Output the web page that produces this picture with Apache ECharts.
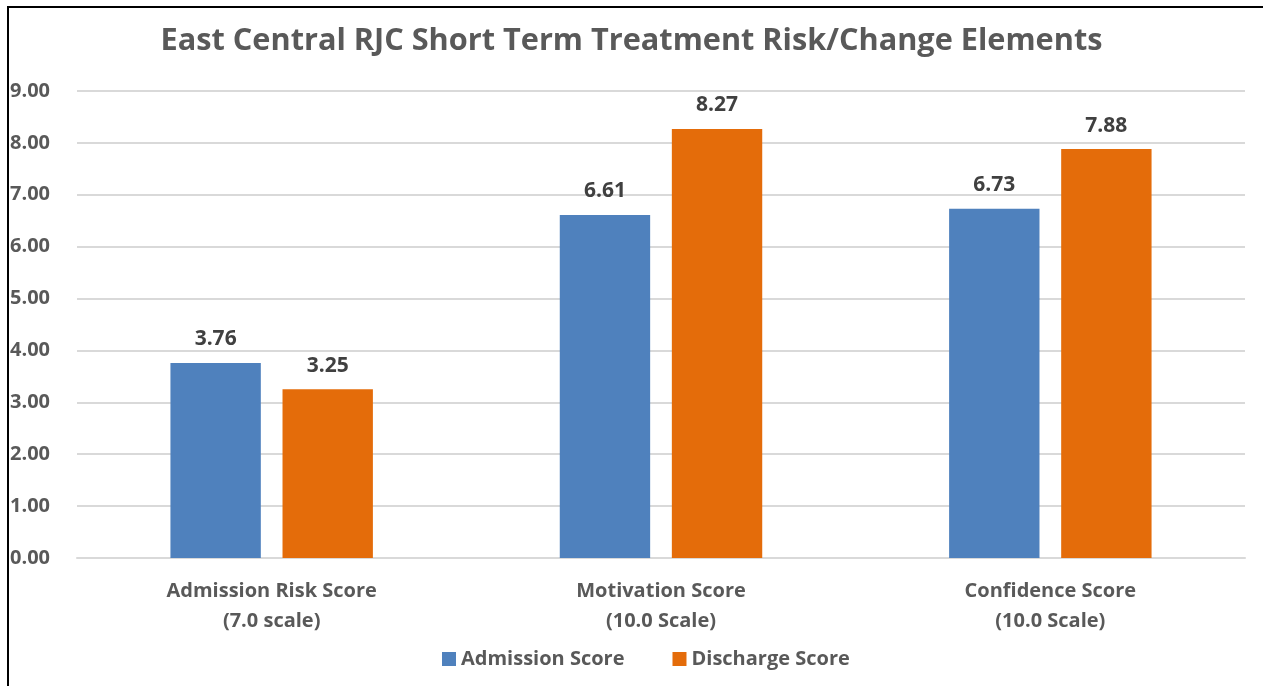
<!DOCTYPE html>
<html>
<head>
<meta charset="utf-8">
<script src="https://cdn.jsdelivr.net/npm/echarts@6/dist/echarts.min.js"></script>
<style>
  html, body { margin: 0; padding: 0; background: #fff; }
  #frame {
    position: absolute; left: 7px; top: 6px; width: 1270px; height: 700px;
    border-left: 2px solid #000; border-top: 2px solid #000;
  }
  #chart { position: absolute; left: 0; top: 0; width: 1263px; height: 686px; }
</style>
</head>
<body>
<div id="frame"></div>
<div id="chart"></div>
<script>
  var categories = ["Admission Risk Score\n(7.0 scale)", "Motivation Score\n(10.0 Scale)", "Confidence Score\n(10.0 Scale)"];
  var admission = [3.76, 6.61, 6.73];
  var discharge = [3.25, 8.27, 7.88];

  var chartDom = document.getElementById("chart");
  var myChart = echarts.init(chartDom);
  var font = "'Open Sans', sans-serif";
  var label = {
    show: true,
    position: "top",
    distance: 13,
    fontFamily: font,
    fontWeight: "bold",
    fontSize: 21,
    color: "#404040",
    formatter: function (p) { return p.value.toFixed(2); },
  };
  var option = {
    animation: false,
    title: {
      text: "East Central RJC Short Term Treatment Risk/Change Elements",
      left: "center",
      top: 21,
      textStyle: { fontFamily: font, fontWeight: "bold", fontSize: 30.7, color: "#595959" },
    },
    legend: {
      bottom: 12,
      left: 437,
      itemWidth: 14,
      itemHeight: 14,
      itemGap: 48,
      icon: "rect",
      textStyle: { fontFamily: font, fontWeight: "bold", fontSize: 20, color: "#595959" },
      data: ["Admission Score", "Discharge Score"],
    },
    grid: { left: 77, right: 18, top: 91, bottom: 128 },
    xAxis: {
      type: "category",
      data: categories,
      axisLine: { show: true, lineStyle: { color: "#d9d9d9", width: 2 } },
      axisTick: { show: false },
      axisLabel: {
        margin: 18,
        lineHeight: 30,
        fontFamily: font,
        fontWeight: "bold",
        fontSize: 20,
        color: "#595959",
      },
    },
    yAxis: {
      type: "value",
      min: 0,
      max: 9,
      interval: 1,
      splitLine: { lineStyle: { color: "#d9d9d9", width: 2 } },
      axisLine: { show: false },
      axisTick: { show: false },
      axisLabel: {
        align: "left",
        margin: 67,
        fontFamily: font,
        fontWeight: "bold",
        fontSize: 20,
        color: "#595959",
        formatter: function (v) { return v.toFixed(2); },
      },
    },
    series: [
      {
        name: "Admission Score",
        type: "bar",
        data: admission,
        barGap: "24%",
        barCategoryGap: "48%",
        itemStyle: { color: "#4f81bd" },
        label: label,
      },
      {
        name: "Discharge Score",
        type: "bar",
        data: discharge,
        itemStyle: { color: "#e46c0a" },
        label: label,
      },
    ],
  };
  myChart.setOption(option);
</script>
</body>
</html>
